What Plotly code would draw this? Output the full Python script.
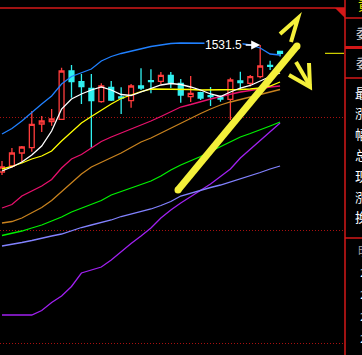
import plotly.graph_objects as go

# ---------------- data ----------------
idx = list(range(29))
open_ = [1404.5, 1410.5, 1423.5, 1428.8, 1452.5, 1454.8, 1457.2, 1505.5, 1494.8, 1488.2,
         1474.8, 1489.2, 1479.5, 1475.8, 1490.5, 1495.8, 1495.2, 1501.2, 1493.2, 1479.8,
         1483.8, 1480.8, 1479.8, 1477.2, 1495.5, 1493.2, 1499.8, 1511.0, 1525.0]
high = [1415.5, 1428.5, 1430.5, 1465.5, 1460.5, 1467.5, 1508.8, 1511.5, 1502.5, 1502.5,
        1493.2, 1495.5, 1489.2, 1492.5, 1508.2, 1507.2, 1504.5, 1504.5, 1497.5, 1500.5,
        1484.8, 1489.5, 1481.0, 1498.8, 1504.8, 1501.5, 1531.5, 1515.8, 1525.0]
low = [1401.5, 1408.5, 1414.5, 1424.8, 1444.5, 1450.8, 1456.5, 1478.8, 1472.5, 1428.8,
       1473.8, 1475.5, 1462.5, 1468.8, 1486.5, 1483.2, 1492.5, 1488.5, 1473.8, 1474.5,
       1476.5, 1470.5, 1474.8, 1456.5, 1487.0, 1490.0, 1498.2, 1506.5, 1520.0]
close = [1409.5, 1423.5, 1429.5, 1452.2, 1455.5, 1457.5, 1505.5, 1494.8, 1489.8, 1475.8,
         1490.5, 1476.5, 1478.5, 1490.5, 1488.5, 1494.8, 1501.2, 1493.8, 1481.5, 1483.2,
         1478.5, 1479.8, 1477.5, 1496.5, 1493.8, 1499.8, 1510.5, 1510.2, 1523.2]

ma_white = [1405.5, 1409.5, 1414.5, 1421.5, 1430.5, 1445.5, 1467.5, 1477.5, 1482.5, 1486.5,
            1489.5, 1486.5, 1482, 1481, 1484.5, 1488, 1491.5, 1493, 1492, 1489.5,
            1486.5, 1482.5, 1480, 1484.5, 1488.5, 1491, 1495.5, 1500, 1503.5]
ma_yellow = [1407.5, 1410, 1413.5, 1417.5, 1420.5, 1425.5, 1435.5, 1445, 1453.5, 1460,
             1466.5, 1472.5, 1478, 1481.5, 1485, 1487.5, 1487.5, 1487.5, 1487, 1487,
             1486.5, 1486.5, 1486.5, 1486.5, 1487, 1487.5, 1488.5, 1490.5, 1494.5]
band_blue = [1442.5, 1448, 1455.5, 1464.5, 1472.5, 1480.5, 1492.5, 1500, 1503.5, 1507.5,
             1515.5, 1520, 1523, 1525.5, 1528, 1530, 1531.5, 1533, 1533.5, 1533.5,
             1533.5, 1533.5, 1533.5, 1533.5, 1533, 1531.5, 1528.5, 1522.5, 1521.5]
ma_magenta = [1368.5, 1372, 1380.5, 1385.5, 1390.5, 1397, 1408.5, 1417.5, 1422, 1428.5,
              1435, 1439.5, 1443.5, 1447, 1451, 1455.5, 1460, 1465, 1469.5, 1472,
              1475, 1477.5, 1480, 1482.5, 1484.5, 1486, 1488, 1489.5, 1490.5]
ma_orange = [1353.5, 1355, 1358.5, 1364, 1369, 1376, 1385, 1394, 1402.5, 1409.5,
             1414, 1418.5, 1423.5, 1429, 1434.5, 1438.5, 1443.5, 1448.5, 1453.5, 1458.5,
             1463, 1467.5, 1471.5, 1474.5, 1477, 1479.5, 1482, 1484.5, 1487]
ma_green = [1341, 1343, 1345.5, 1348.5, 1351.5, 1355.5, 1359.5, 1364.5, 1368.5, 1372,
            1376, 1381.5, 1385, 1388.5, 1392, 1395.5, 1400.5, 1406.5, 1411.5, 1415.5,
            1420, 1425, 1430, 1435, 1439.5, 1443, 1446.5, 1450.5, 1454.5]
ma_periwinkle = [1330.5, 1332, 1334, 1336, 1338.5, 1340.5, 1342.5, 1346, 1349, 1351.5,
                 1354, 1356.5, 1360, 1362.5, 1365, 1367.5, 1371, 1375, 1380.5, 1383.5,
                 1386.5, 1389, 1391.5, 1394.5, 1397.5, 1400.5, 1404, 1407.5, 1410.5]
ma_purple = [1261.5, 1261.5, 1262, 1261.5, 1266, 1274, 1280.5, 1290, 1303.5, 1306.5,
             1309.5, 1316.5, 1325, 1333, 1340.5, 1348.5, 1358.5, 1366.5, 1373.5, 1380,
             1386.5, 1392.5, 1400, 1407.5, 1418.5, 1427.5, 1435.5, 1444.5, 1453.5]

grid_levels = [1459.5, 1346.5, 1233.5]
peak_label = "1531.5"

side_labels = ["最", "涨", "幅", "总", "现", "涨", "换"]
top_labels = ["委", "委"]

# ---------------- figure ----------------
W, H = 362, 355
def px(x):
    return x / W
def py(y):
    return 1 - y / H
def path_px(points):
    return "M " + " L ".join(f"{px(a):.5f},{py(b):.5f}" for a, b in points)

RED = "#D41818"
fig = go.Figure()

lines = [
    (ma_purple, "#A020F0"),
    (ma_periwinkle, "#8282FF"),
    (ma_green, "#00F000"),
    (ma_orange, "#C8821E"),
    (ma_magenta, "#E8106C"),
    (band_blue, "#2080FF"),
    (ma_yellow, "#FFFF00"),
]
for vals, col in lines:
    fig.add_trace(go.Scatter(x=idx, y=vals, mode="lines",
                             line=dict(color=col, width=1.3), hoverinfo="skip"))

fig.add_trace(go.Candlestick(
    x=idx, open=open_, high=high, low=low, close=close,
    increasing=dict(line=dict(color="#FF3C3C", width=1.3), fillcolor="#000000"),
    decreasing=dict(line=dict(color="#30F0F0", width=1.3), fillcolor="#30F0F0"),
    whiskerwidth=0,
))
fig.add_trace(go.Scatter(x=idx, y=ma_white, mode="lines",
                         line=dict(color="#FFFFFF", width=1.3), hoverinfo="skip"))

shapes = []
# frame lines
shapes.append(dict(type="line", xref="paper", yref="paper", x0=px(0), x1=px(345),
                   y0=py(8), y1=py(8), line=dict(color=RED, width=1.5)))
shapes.append(dict(type="line", xref="paper", yref="paper", x0=px(345), x1=px(345),
                   y0=0, y1=1, line=dict(color=RED, width=1.5)))
for yy, w in [(18, 1.5), (47.5, 3), (78, 1.5), (238, 1.5)]:
    shapes.append(dict(type="line", xref="paper", yref="paper", x0=px(345), x1=1,
                       y0=py(yy), y1=py(yy), line=dict(color=RED, width=w)))
shapes.append(dict(type="path", xref="paper", yref="paper",
                   path=path_px([(335, 8), (345, 8), (345, 18)]) + " Z",
                   fillcolor=RED, line=dict(width=0)))
# last price marker
shapes.append(dict(type="line", xref="paper", yref="y", x0=px(325), x1=px(344),
                   y0=close[-1], y1=close[-1], line=dict(color="#FFFF00", width=1)))
# hand drawn yellow arrows
YEL = "#F4F03A"
shapes.append(dict(type="line", xref="paper", yref="paper", x0=px(178), y0=py(190),
                   x1=px(297), y1=py(46), line=dict(color=YEL, width=7)))
for cx, cy in [(178, 190), (297, 46)]:
    shapes.append(dict(type="circle", xref="paper", yref="paper",
                       x0=px(cx - 3.5), x1=px(cx + 3.5), y0=py(cy - 3.5), y1=py(cy + 3.5),
                       fillcolor=YEL, line=dict(width=0)))
shapes.append(dict(type="path", xref="paper", yref="paper",
                   path=path_px([(280, 34), (298, 18), (291, 42)]),
                   line=dict(color=YEL, width=4)))
shapes.append(dict(type="path", xref="paper", yref="paper",
                   path=path_px([(296, 62), (310, 86)]),
                   line=dict(color=YEL, width=4)))
shapes.append(dict(type="path", xref="paper", yref="paper",
                   path=path_px([(289, 75), (310, 87), (309, 63)]),
                   line=dict(color=YEL, width=4)))

annotations = []
annotations.append(dict(x=26, y=high[26], xref="x", yref="y", text="",
                        showarrow=True, ax=-16, ay=0, arrowhead=2, arrowsize=1.2,
                        arrowwidth=1.5, arrowcolor="#FFFFFF"))
annotations.append(dict(x=26, y=high[26], xref="x", yref="y", text=peak_label,
                        showarrow=False, xanchor="right", yanchor="middle", xshift=-17,
                        bgcolor="#000000", borderpad=0,
                        font=dict(color="#FFFFFF", size=12, family="Liberation Sans")))
CJK = "Noto Sans CJK SC"
annotations.append(dict(x=px(356), y=py(5), xref="paper", yref="paper", text="黄",
                        showarrow=False, xanchor="left", yanchor="middle",
                        font=dict(color="#E6E600", size=13, family=CJK)))
for t, yy in zip(top_labels, [33, 63]):
    annotations.append(dict(x=px(354), y=py(yy), xref="paper", yref="paper", text=t,
                            showarrow=False, xanchor="left", yanchor="middle",
                            font=dict(color="#D8D8D8", size=13, family=CJK)))
for i, t in enumerate(side_labels):
    annotations.append(dict(x=px(353), y=py(92 + 20.8 * i), xref="paper", yref="paper", text=t,
                            showarrow=False, xanchor="left", yanchor="middle",
                            font=dict(color="#FFFFFF", size=13, family=CJK)))
annotations.append(dict(x=px(356), y=py(251), xref="paper", yref="paper", text="明",
                        showarrow=False, xanchor="left", yanchor="middle",
                        font=dict(color="#A0A0A0", size=12, family=CJK)))
for yy in [273, 295, 317, 339]:
    annotations.append(dict(x=px(358), y=py(yy), xref="paper", yref="paper", text="2",
                            showarrow=False, xanchor="left", yanchor="middle",
                            font=dict(color="#FFFFFF", size=11, family="DejaVu Sans")))

fig.update_layout(
    width=W, height=H, margin=dict(l=0, r=0, t=0, b=0, pad=0),
    paper_bgcolor="#000000", plot_bgcolor="#000000",
    showlegend=False, shapes=shapes, annotations=annotations,
    xaxis=dict(domain=[0, 345 / W], range=[-0.2, 34.54], visible=True,
               showgrid=False, zeroline=False, showticklabels=False, ticks="",
               rangeslider=dict(visible=False), showline=False),
    yaxis=dict(domain=[0, 1], range=[1221.5, 1576.5], tickvals=grid_levels,
               showgrid=True, gridcolor="#A81010", gridwidth=1, griddash="1px,2px",
               zeroline=False, showticklabels=False, ticks="", showline=False),
    boxgap=0.3,
)
fig.write_html("out.html")
